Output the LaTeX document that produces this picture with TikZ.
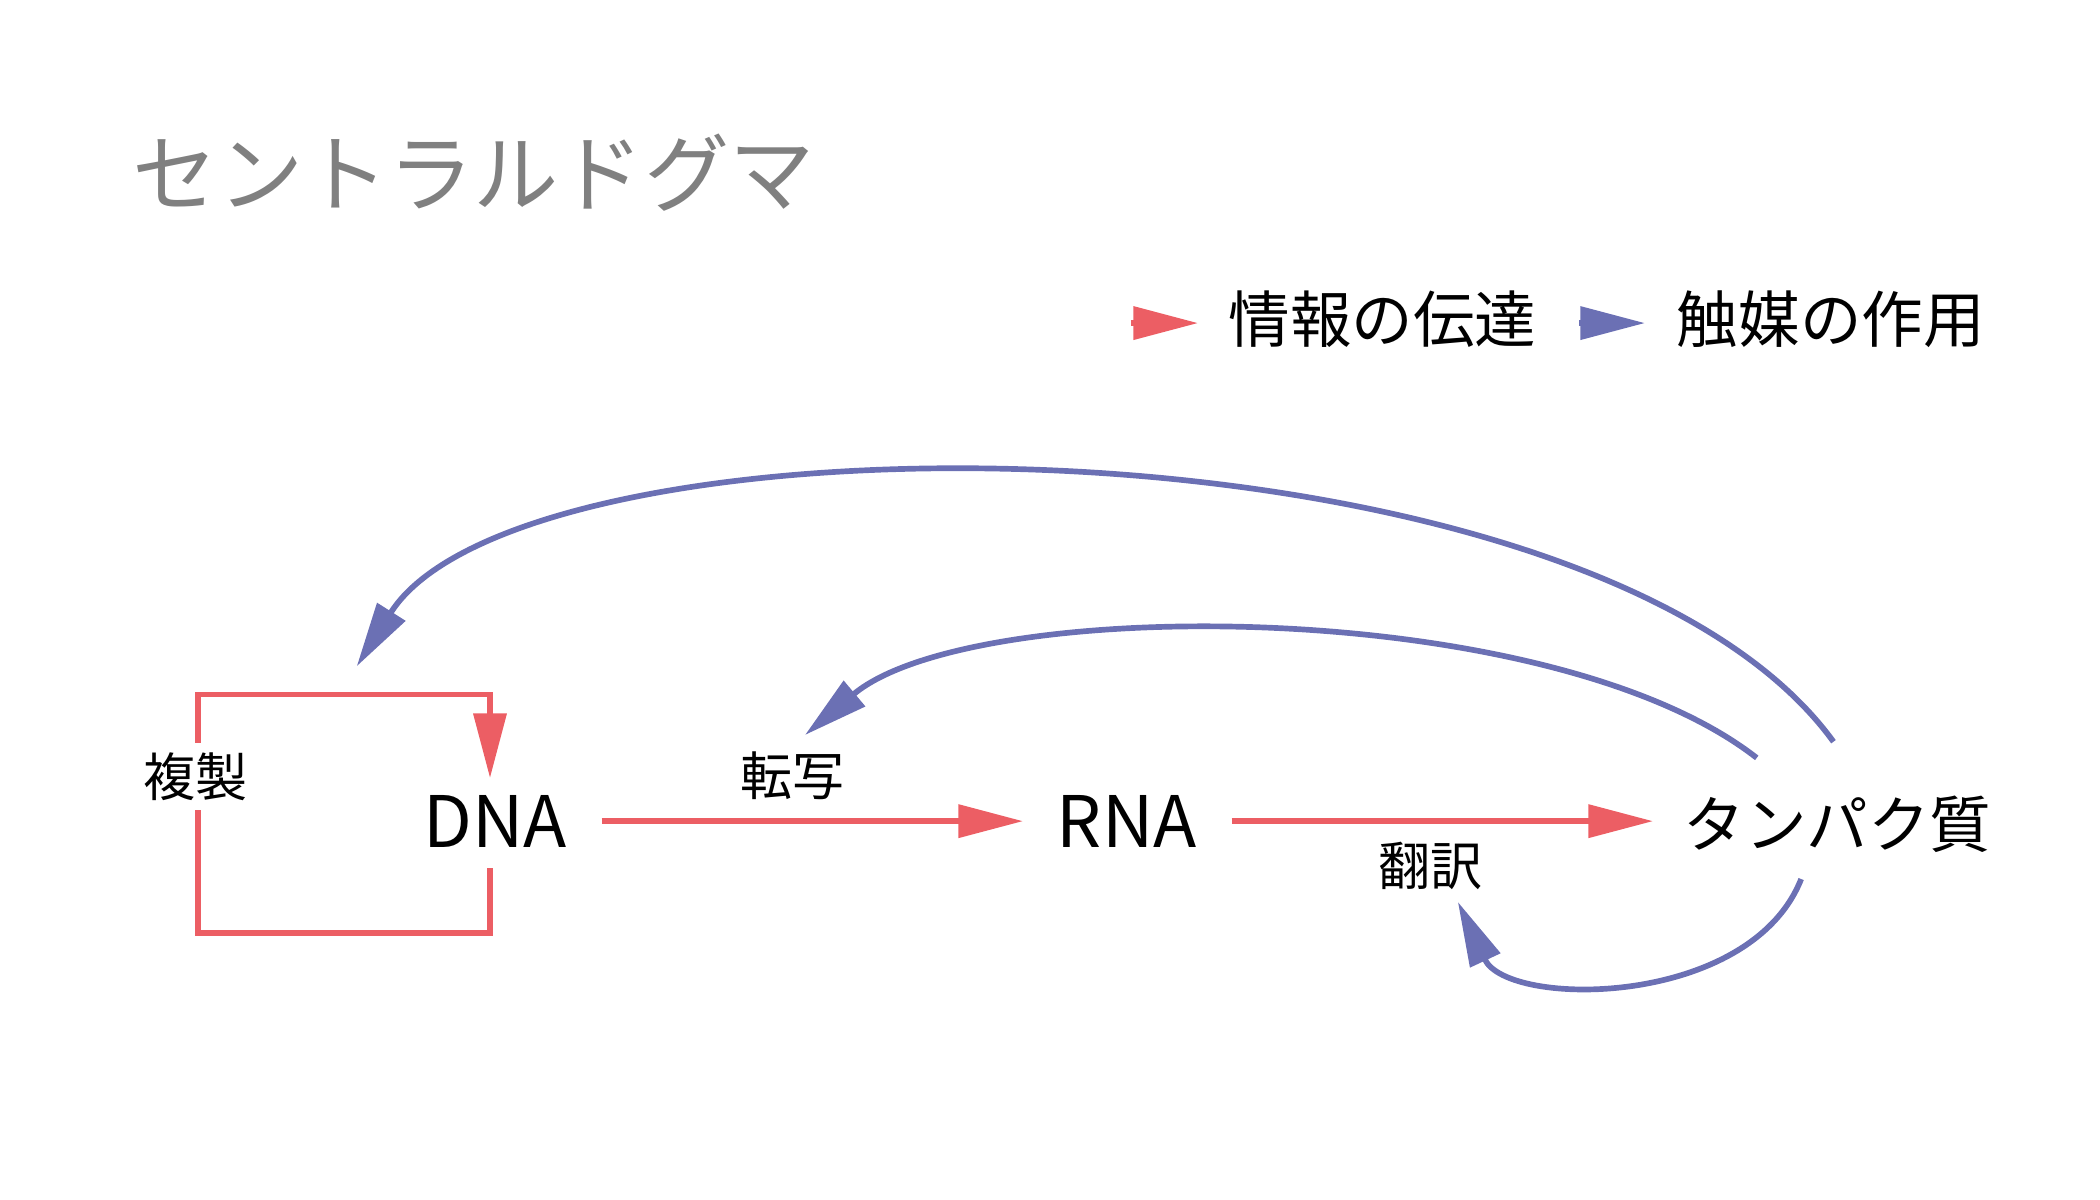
\documentclass[tikz,border=0pt]{standalone}
\usepackage{fontspec}
\setmainfont{Noto Sans CJK JP}
\usetikzlibrary{positioning, arrows.meta}
\definecolor{infored}{RGB}{236,94,100}
\definecolor{catblue}{RGB}{107,112,180}
\tikzstyle{mol} = [inner sep=0pt, font=\fontsize{15}{18}\selectfont]
\tikzstyle{lab} = [inner sep=2pt, font=\fontsize{11}{13}\selectfont, fill=white]
\tikzstyle{legend} = [inner sep=0pt, anchor=west, font=\fontsize{13}{16}\selectfont]
\tikzstyle{info} = [draw=infored, line width=1.2pt, -{Triangle[length=0.48cm, width=0.24cm]}]
\tikzstyle{cat} = [draw=catblue, line width=1.2pt, -{Triangle[length=0.48cm, width=0.24cm]}]

\begin{document}
\begin{tikzpicture}[x=0.01cm, y=-0.01cm]
	\useasboundingbox (0,0) rectangle (1560,891);
	\node (title) [inner sep=0pt, anchor=west, text=gray, font=\fontsize{18}{22}\selectfont] at (98,128) {セントラルドグマ};
	
	\coordinate (redkey) at (840,240);
	\coordinate (redtip) at (890,240);
	\node (redtext) [legend] at (912,237) {情報の伝達};
	\coordinate (bluekey) at (1173,240);
	\coordinate (bluetip) at (1222,240);
	\node (bluetext) [legend] at (1245,237) {触媒の作用};
	\draw [info] (redkey) -- (redtip);
	\draw [cat] (bluekey) -- (bluetip);
	
	\node (dna) [mol] at (368,610) {DNA};
	\node (rna) [mol] at (837,610) {RNA};
	\node (protein) [mol, font=\fontsize{13}{16}\selectfont] at (1365,612) {タンパク質};
	
	\coordinate (dnabot) at (364,645);
	\coordinate (dnatop) at (364,578);
	\draw [info] (dnabot) -- (364,693) -- (147,693) -- (147,516) -- (364,516) -- (dnatop);
	\node (replication) [lab] at (145,577) {複製};
	
	\coordinate (dnaout) at (447,610);
	\coordinate (rnain) at (760,610);
	\coordinate (rnaout) at (915,610);
	\coordinate (protin) at (1228,610);
	\draw [info] (dnaout) -- (rnain);
	\draw [info] (rnaout) -- (protin);
	\node (transcription) [lab] at (589,576) {転写};
	\node (translation) [lab] at (1063,643) {翻訳};
	
	\coordinate (toreplication) at (265,495);
	\coordinate (totranscription) at (598,546);
	\coordinate (totranslation) at (1083,670);
	\draw [cat] (1362,551) .. controls (1180,300) and (390,298) .. (toreplication);
	\draw [cat] (1305,563) .. controls (1150,442) and (722,442) .. (totranscription);
	\draw [cat] (1338,653) .. controls (1300,749) and (1120,749) .. (totranslation);
\end{tikzpicture}
\end{document}
